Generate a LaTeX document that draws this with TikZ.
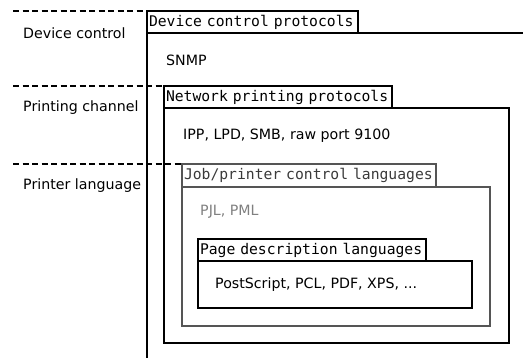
\documentclass[tikz,border=0pt]{standalone}
\usepackage{fontspec}
\setmainfont{DejaVu Sans}
\newfontfamily\monofont{DejaVu Sans Mono}
\definecolor{framegray}{HTML}{555555}
\definecolor{tabtextgray}{HTML}{3A3A3A}
\definecolor{textgray}{HTML}{808080}
\tikzset{
  frame/.style={line width=2pt, draw=#1},
  frame/.default=black,
  tab/.style={draw=#1, line width=2pt, anchor=north west, inner xsep=2pt, inner ysep=0pt, outer sep=0pt,
    minimum height=22pt, align=left, font=\fontsize{14.7}{16}\monofont},
  tab/.default=black,
  sidelabel/.style={anchor=west, font=\fontsize{14.2}{16}\selectfont, inner sep=0pt},
  content/.style={anchor=west, font=\fontsize{14.2}{16}\selectfont, inner sep=0pt},
  layer/.style={line width=2pt, dash pattern=on 6pt off 3.5pt},
}
\begin{document}
\begin{tikzpicture}[x=1pt,y=-1pt]
\useasboundingbox (0,0) rectangle (523,358);
% layer separators
\coordinate (d1s) at (13,11);  \coordinate (d1e) at (147,11);
\coordinate (d2s) at (13,86);  \coordinate (d2e) at (164,86);
\coordinate (d3s) at (13,164); \coordinate (d3e) at (182,164);
\draw[layer] (d1s) -- (d1e);
\draw[layer] (d2s) -- (d2e);
\draw[layer] (d3s) -- (d3e);
\node[sidelabel] (sl1) at (23,33) {Device control};
\node[sidelabel] (sl2) at (23,108) {Printing channel};
\node[sidelabel] (sl3) at (23,186) {Printer language};
% device control frame (open)
\draw[frame] (147,358) -- (147,33) -- (523,33);
\node[tab, text width=207pt] (t1) at (147,11) {Device control protocols};
\node[content] (c1) at (166,60) {SNMP};
% network printing
\draw[frame] (164,108) rectangle (509,343);
\node[tab, text width=224pt] (t2) at (164,86) {Network printing protocols};
\node[content] (c2) at (183,136) {IPP, LPD, SMB, raw port 9100};
% job/printer control
\draw[frame=framegray] (182,187) rectangle (490,326);
\node[tab=framegray, text=tabtextgray, text width=250pt, minimum height=23pt] (t3) at (182,164) {Job/printer control languages};
\node[content, text=textgray] (c3) at (200,212) {PJL, PML};
% page description
\draw[frame] (198,261) rectangle (472,308);
\node[tab, text width=224pt] (t4) at (198,239) {Page description languages};
\node[content] (c4) at (215,285) {PostScript, PCL, PDF, XPS, ...};
\end{tikzpicture}
\end{document}
